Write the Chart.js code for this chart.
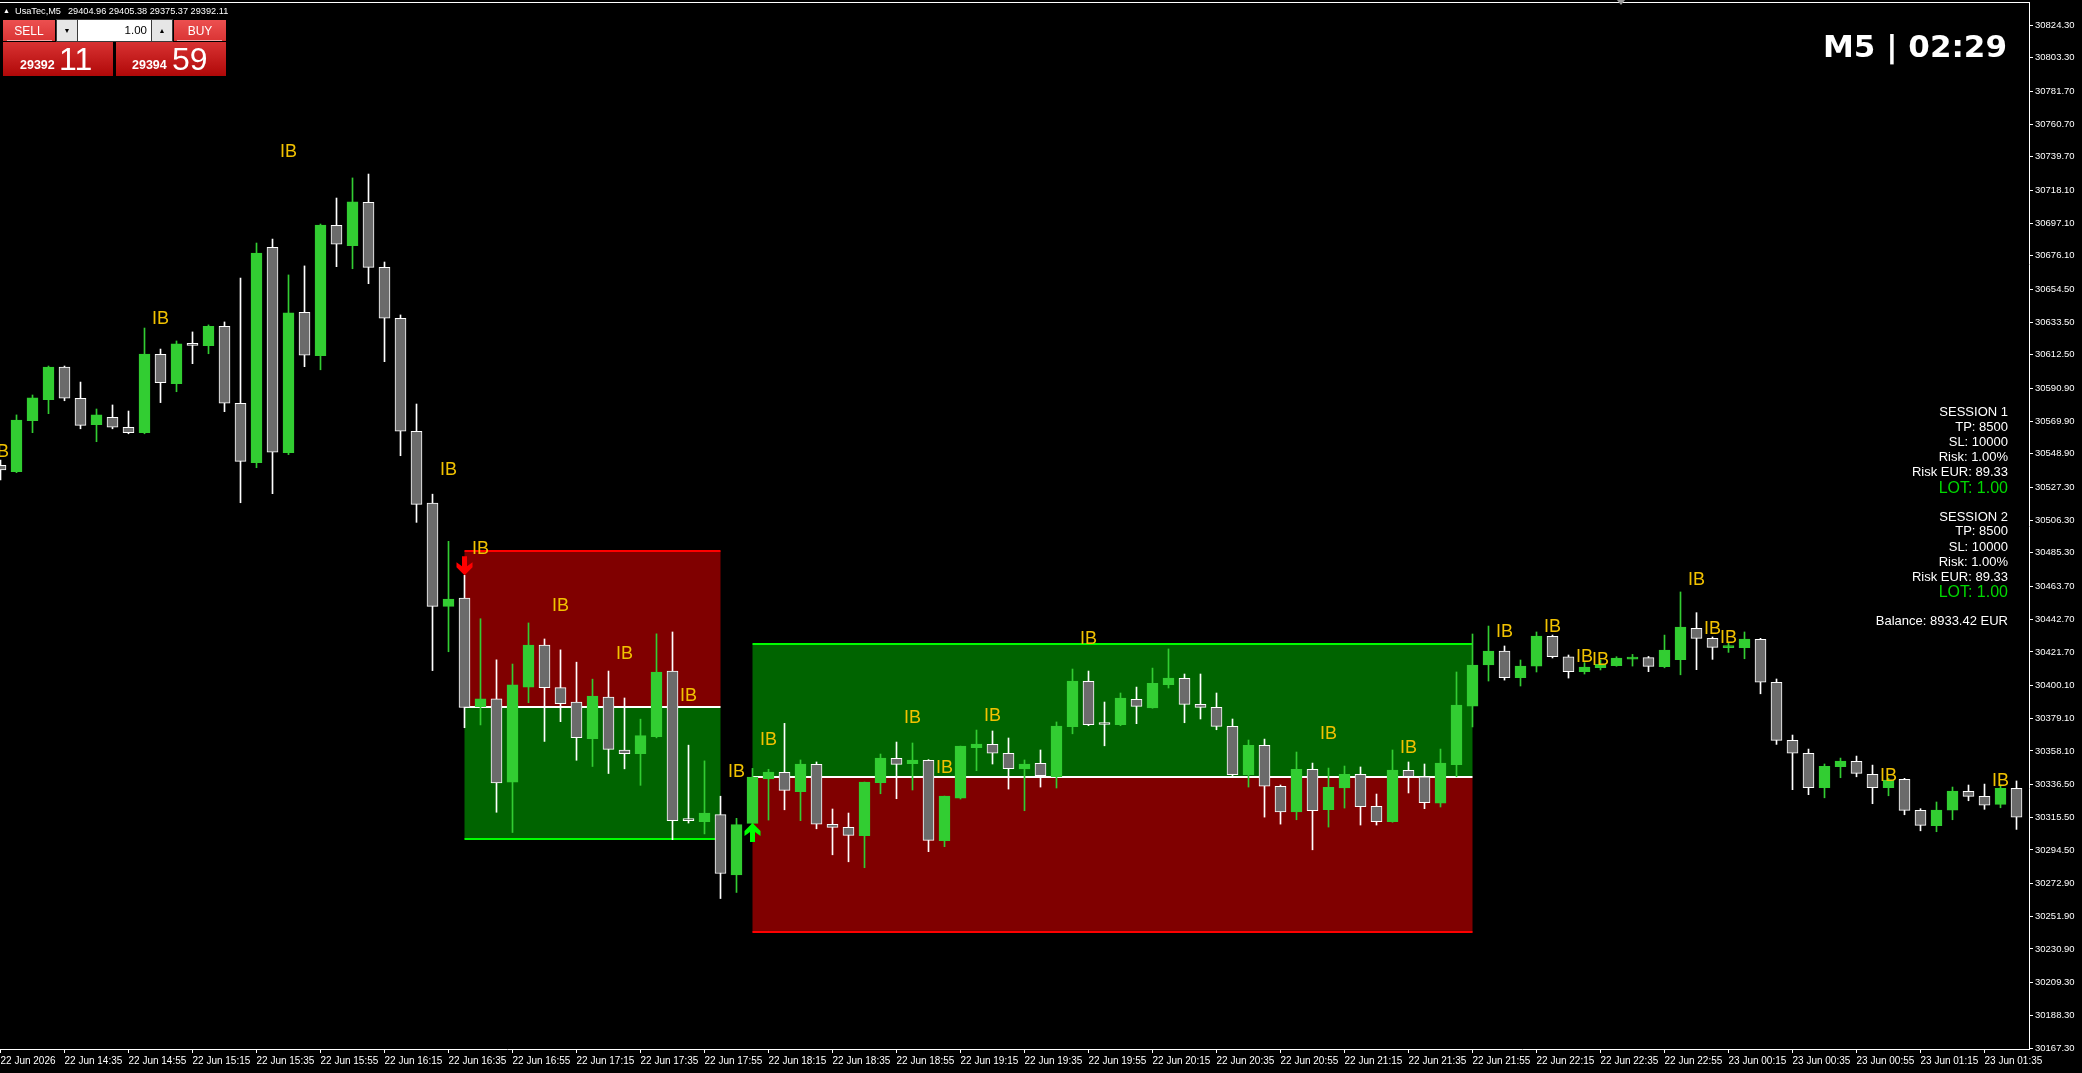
<!DOCTYPE html>
<html><head><meta charset="utf-8">
<script src="https://cdn.jsdelivr.net/npm/chart.js@4.4.1/dist/chart.umd.min.js"></script>
<style>
html,body{margin:0;padding:0;background:#000;width:2082px;height:1073px;overflow:hidden;font-family:"Liberation Sans",Arial,sans-serif;}
#wrap{position:relative;width:2082px;height:1073px;background:#000;}
canvas{position:absolute;left:0;top:0;}
.ov{position:absolute;white-space:nowrap;line-height:1;}
.blk{position:absolute;}
.info{font-size:13px;color:#fff;right:74px;}
.lot{font-size:16px;color:#00D800;right:74px;}
.rt{background:linear-gradient(#EC5050,#DA3434);}
.rb{background:linear-gradient(#D83232,#B00808);}
</style></head><body>
<div id="wrap">
<canvas id="c" width="2082" height="1073"></canvas>

<div class="ov" style="left:3px;top:7px;font-size:7px;color:#fff">▲</div>
<div class="ov" style="left:15px;top:6.5px;font-size:9.2px;color:#fff">UsaTec,M5</div>
<div class="ov" style="left:68px;top:6.5px;font-size:9.2px;color:#fff">29404.96 29405.38 29375.37 29392.11</div>

<div class="blk rt" style="left:3px;top:20px;width:52px;height:21px;"></div>
<div class="ov" style="left:3px;top:25px;width:52px;text-align:center;font-size:12px;color:#fff">SELL</div>
<div class="blk" style="left:7px;top:40px;width:45px;height:1px;background:#f3a8a8"></div>

<div class="blk" style="left:56px;top:19px;width:117px;height:23px;background:#3a3a3a"></div>
<div class="blk" style="left:57px;top:20px;width:20px;height:21px;background:#e6e6e6"></div>
<div class="ov" style="left:57px;top:27px;width:20px;text-align:center;font-size:7px;color:#000">▼</div>
<div class="blk" style="left:78px;top:20px;width:73px;height:21px;background:#fff"></div>
<div class="ov" style="left:78px;top:25.4px;width:69px;text-align:right;font-size:11.5px;color:#000">1.00</div>
<div class="blk" style="left:152px;top:20px;width:20px;height:21px;background:#e6e6e6"></div>
<div class="ov" style="left:152px;top:27px;width:20px;text-align:center;font-size:7px;color:#000">▲</div>

<div class="blk rt" style="left:174px;top:20px;width:52px;height:21px;"></div>
<div class="ov" style="left:174px;top:25px;width:52px;text-align:center;font-size:12px;color:#fff">BUY</div>
<div class="blk" style="left:177px;top:40px;width:45px;height:1px;background:#f3a8a8"></div>

<div class="blk rb" style="left:3px;top:42px;width:110px;height:34px;"></div>
<div class="ov" style="left:20px;top:59.4px;font-size:12.5px;font-weight:bold;color:#fff">29392</div>
<div class="ov" style="left:59px;top:43px;font-size:32px;color:#fff">11</div>
<div class="blk rb" style="left:116px;top:42px;width:110px;height:34px;"></div>
<div class="ov" style="left:132px;top:59.4px;font-size:12.5px;font-weight:bold;color:#fff">29394</div>
<div class="ov" style="left:172px;top:43px;font-size:32px;color:#fff">59</div>

<div class="blk" style="left:1617px;top:0px;width:0;height:0;border-left:4px solid transparent;border-right:4px solid transparent;border-top:5px solid #9a9a9a"></div>

<div class="ov" style="right:75px;top:31px;font-family:'DejaVu Sans',sans-serif;font-weight:bold;font-size:31px;color:#fff">M5 | 02:29</div>

<div class="ov info" style="top:405.3px">SESSION 1</div>
<div class="ov info" style="top:419.6px">TP: 8500</div>
<div class="ov info" style="top:434.9px">SL: 10000</div>
<div class="ov info" style="top:450.3px">Risk: 1.00%</div>
<div class="ov info" style="top:464.9px">Risk EUR: 89.33</div>
<div class="ov lot" style="top:479.9px">LOT: 1.00</div>
<div class="ov info" style="top:509.6px">SESSION 2</div>
<div class="ov info" style="top:524.3px">TP: 8500</div>
<div class="ov info" style="top:539.6px">SL: 10000</div>
<div class="ov info" style="top:554.9px">Risk: 1.00%</div>
<div class="ov info" style="top:569.6px">Risk EUR: 89.33</div>
<div class="ov lot" style="top:584.2px">LOT: 1.00</div>
<div class="ov info" style="top:613.6px">Balance: 8933.42 EUR</div>
</div>
<script>
// ---- DATA ----
const openPrices = [30541.5,30537.4,30570.2,30583.7,30604.7,30584.6,30567.6,30572.4,30566.0,30562.5,
30612.8,30594.0,30619.9,30618.4,30630.8,30581.4,30543.2,30681.6,30549.6,30639.8,
30611.9,30695.7,30682.6,30710.5,30668.7,30636.0,30563.4,30517.3,30450.9,30456.3,
30386.6,30391.5,30338.1,30399.1,30426.1,30398.8,30389.4,30366.0,30392.7,30358.7,
30356.3,30367.2,30409.4,30313.3,30312.7,30317.2,30278.4,30311.6,30340.2,30344.4,
30331.9,30349.5,30311.0,30309.0,30303.6,30337.7,30353.3,30349.9,30352.1,30300.4,
30327.8,30360.2,30362.3,30356.6,30346.5,30350.1,30341.5,30373.6,30402.8,30375.1,
30374.9,30391.2,30385.8,30400.6,30404.7,30388.0,30386.1,30373.9,30342.8,30361.7,
30335.4,30319.0,30346.3,30320.3,30334.3,30343.1,30322.5,30312.6,30345.6,30341.5,
30324.6,30349.2,30386.9,30413.3,30422.3,30405.1,30412.6,30431.7,30418.6,30409.0,
30411.5,30412.8,30417.1,30418.0,30412.2,30416.7,30436.8,30430.4,30424.4,30424.4,
30429.8,30402.2,30364.9,30356.6,30334.5,30348.0,30351.4,30343.1,30334.5,30339.9,
30319.9,30310.1,30320.0,30332.2,30328.9,30323.8,30334.1];
const highPrices = [30544.9,30573.9,30586.7,30605.3,30605.3,30595.0,30577.7,30580.3,30576.4,30629.7,
30616.2,30621.4,30627.2,30631.7,30633.6,30661.8,30684.3,30686.9,30663.8,30669.6,
30696.5,30713.2,30726.1,30728.6,30672.1,30638.1,30580.9,30523.0,30492.7,30470.9,
30443.0,30416.6,30413.9,30440.3,30430.0,30423.0,30415.1,30404.2,30409.4,30392.1,
30378.5,30433.3,30434.5,30361.8,30351.7,30329.0,30314.8,30346.9,30346.3,30375.8,
30352.3,30351.0,30320.8,30318.2,30338.1,30356.1,30363.8,30363.2,30352.5,30329.1,
30361.2,30371.5,30370.9,30366.4,30352.3,30358.7,30376.7,30410.7,30409.4,30389.5,
30395.3,30399.1,30411.3,30423.6,30407.5,30407.5,30395.3,30378.6,30365.1,30365.7,
30336.2,30357.4,30350.3,30347.1,30348.4,30347.8,30330.4,30358.7,30351.0,30349.7,
30359.3,30408.8,30433.2,30438.3,30425.5,30416.5,30434.5,30432.5,30419.7,30414.8,
30416.5,30418.6,30420.1,30418.8,30432.5,30460.2,30446.9,30431.3,30427.9,30434.5,
30430.4,30404.3,30368.3,30359.3,30349.7,30353.5,30354.8,30349.0,30340.5,30340.5,
30321.0,30325.3,30334.9,30336.2,30336.8,30336.2,30338.8];
const lowPrices = [30532.1,30536.8,30562.5,30574.7,30583.0,30565.0,30556.7,30565.0,30561.8,30561.8,
30581.8,30588.8,30606.8,30613.2,30576.0,30517.5,30540.0,30523.3,30548.4,30604.9,
30602.9,30669.1,30667.8,30658.2,30608.1,30547.7,30504.9,30409.7,30421.8,30373.0,
30374.8,30318.7,30305.7,30389.1,30364.2,30376.9,30352.1,30348.1,30343.6,30346.6,
30336.0,30366.5,30301.1,30311.8,30304.8,30263.3,30267.2,30309.9,30313.7,30320.3,
30313.3,30308.1,30291.4,30286.9,30283.1,30330.6,30327.4,30333.0,30293.4,30296.6,
30327.2,30345.4,30349.7,30333.6,30319.7,30334.9,30334.3,30369.1,30374.3,30361.4,
30374.3,30375.6,30385.5,30398.5,30376.2,30378.6,30371.7,30341.5,30334.9,30315.6,
30311.1,30313.9,30294.6,30309.2,30321.4,30310.5,30310.5,30312.3,30331.1,30321.0,
30322.1,30341.5,30373.5,30403.0,30403.6,30399.8,30408.8,30417.8,30404.9,30407.5,
30410.1,30412.5,30412.6,30409.0,30411.5,30407.0,30410.3,30416.9,30421.4,30417.3,
30394.8,30362.3,30333.2,30330.0,30328.0,30340.9,30341.5,30324.2,30329.3,30317.1,
30306.8,30306.2,30313.9,30326.1,30320.6,30321.6,30307.7];
const closePrices = [30538.5,30570.6,30584.8,30604.7,30584.6,30567.2,30573.9,30566.0,30562.5,30613.0,
30594.6,30619.5,30618.6,30630.8,30581.4,30544.1,30677.9,30549.9,30639.4,30612.2,
30695.9,30683.5,30710.7,30668.7,30636.0,30563.4,30516.4,30450.9,30455.7,30386.0,
30391.5,30337.5,30400.6,30426.1,30398.8,30388.5,30366.6,30393.3,30359.1,30356.3,
30367.9,30408.8,30313.3,30313.3,30318.2,30279.4,30310.8,30341.3,30344.5,30332.8,
30349.7,30311.0,30309.0,30303.9,30338.1,30353.5,30349.5,30352.3,30300.7,30329.1,
30361.2,30362.5,30356.6,30346.7,30349.7,30342.2,30374.1,30403.0,30374.9,30375.1,
30392.1,30386.7,30401.5,30404.9,30388.0,30386.1,30373.9,30342.8,30361.7,30335.4,
30319.0,30346.3,30319.7,30334.7,30343.1,30322.3,30312.6,30345.8,30341.5,30324.8,
30350.3,30387.6,30413.3,30422.3,30405.1,30412.6,30431.9,30418.6,30409.0,30412.0,
30413.7,30417.8,30418.4,30412.4,30422.9,30437.7,30430.4,30424.6,30425.0,30430.0,
30402.2,30364.9,30356.6,30334.5,30348.2,30351.6,30343.7,30334.5,30339.4,30319.9,
30310.3,30320.1,30332.3,30328.9,30323.2,30334.1,30315.5];

const xTickIndex = [0,4,8,12,16,20,24,28,32,36,40,44,48,52,56,60,64,68,72,76,80,84,88,92,96,100,104,108,112,116,120,124];
const xTickLabels = ["22 Jun 2026","22 Jun 14:35","22 Jun 14:55","22 Jun 15:15","22 Jun 15:35","22 Jun 15:55","22 Jun 16:15","22 Jun 16:35",
"22 Jun 16:55","22 Jun 17:15","22 Jun 17:35","22 Jun 17:55","22 Jun 18:15","22 Jun 18:35","22 Jun 18:55","22 Jun 19:15",
"22 Jun 19:35","22 Jun 19:55","22 Jun 20:15","22 Jun 20:35","22 Jun 20:55","22 Jun 21:15","22 Jun 21:35","22 Jun 21:55",
"22 Jun 22:15","22 Jun 22:35","22 Jun 22:55","23 Jun 00:15","23 Jun 00:35","23 Jun 00:55","23 Jun 01:15","23 Jun 01:35"];
const yTickValues = [30824.3,30803.3,30781.7,30760.7,30739.7,30718.1,30697.1,30676.1,30654.5,30633.5,30612.5,30590.9,
30569.9,30548.9,30527.3,30506.3,30485.3,30463.7,30442.7,30421.7,30400.1,30379.1,30358.1,30336.5,30315.5,30294.5,
30272.9,30251.9,30230.9,30209.3,30188.3,30167.3];

const ibIndex = [0,10,18,28,30,35,39,43,46,48,57,59,62,68,83,88,94,97,99,100,106,107,108,118,125];
const ibPrice = [30550.1,30635.5,30743.0,30538.5,30487.8,30451.2,30420.6,30393.6,30344.8,30365.1,30379.0,30347.1,30380.5,
30429.8,30369.0,30359.8,30434.7,30437.5,30418.2,30416.5,30467.9,30436.4,30430.6,30342.0,30339.0];

const boxStart = [29,47];
const boxEnd = [45,92];
const boxEntry = [30386.5,30341.5];
const boxSL = [30486.5,30241.5];
const boxTP = [30301.5,30426.5];

const sellSignalIndex = [29];
const buySignalIndex = [47];

// ---- CHART ----
const GREEN='#32CD32', GRAY='#6B6B6B', WHITE='#FFFFFF';
const idx = openPrices.map((_,i)=>i);
const bull = idx.map(i=>closePrices[i]>openPrices[i]);
const bodyData = idx.map(i=>({x:i,y:[openPrices[i],closePrices[i]]}));
const wickData = idx.map(i=>({x:i,y:[lowPrices[i],highPrices[i]]}));

function downArrow(ctx,cx,ty,color){
  ctx.fillStyle=color;ctx.beginPath();
  ctx.moveTo(cx-2.5,ty-19);ctx.lineTo(cx+2.5,ty-19);ctx.lineTo(cx+2.5,ty-9);
  ctx.lineTo(cx+8,ty-13);ctx.lineTo(cx+8,ty-8);ctx.lineTo(cx,ty);ctx.lineTo(cx-8,ty-8);
  ctx.lineTo(cx-8,ty-13);ctx.lineTo(cx-2.5,ty-9);ctx.closePath();ctx.fill();
}
function upArrow(ctx,cx,ty,color){
  ctx.fillStyle=color;ctx.beginPath();
  ctx.moveTo(cx-2.5,ty+19);ctx.lineTo(cx+2.5,ty+19);ctx.lineTo(cx+2.5,ty+9);
  ctx.lineTo(cx+8,ty+13);ctx.lineTo(cx+8,ty+8);ctx.lineTo(cx,ty);ctx.lineTo(cx-8,ty+8);
  ctx.lineTo(cx-8,ty+13);ctx.lineTo(cx-2.5,ty+9);ctx.closePath();ctx.fill();
}

const boxPlugin = {
  id:'boxes',
  beforeDatasetsDraw(chart){
    const {ctx,scales:{x,y}}=chart;
    ctx.save();
    for(let b=0;b<boxStart.length;b++){
      const x0=x.getPixelForValue(boxStart[b]), x1=x.getPixelForValue(boxEnd[b]);
      const ye=y.getPixelForValue(boxEntry[b]), ys=y.getPixelForValue(boxSL[b]), yt=y.getPixelForValue(boxTP[b]);
      ctx.fillStyle='#800000'; ctx.fillRect(x0,Math.min(ye,ys),x1-x0,Math.abs(ys-ye));
      ctx.fillStyle='#006400'; ctx.fillRect(x0,Math.min(ye,yt),x1-x0,Math.abs(yt-ye));
      ctx.fillStyle='#FF0000'; ctx.fillRect(x0,Math.round(ys)-1,x1-x0,2);
      ctx.fillStyle='#00FF00'; ctx.fillRect(x0,Math.round(yt)-1,x1-x0,2);
      ctx.fillStyle='#FFFFFF'; ctx.fillRect(x0,Math.round(ye)-1,x1-x0,2);
    }
    ctx.restore();
  },
  afterDatasetsDraw(chart){
    const {ctx,scales:{x,y}}=chart;
    ctx.save();
    ctx.font='18px "Liberation Sans Narrow","Liberation Sans",Arial,sans-serif';
    ctx.fillStyle='#F2C200';ctx.textAlign='center';ctx.textBaseline='middle';
    for(let i=0;i<ibIndex.length;i++){
      ctx.fillText('IB',x.getPixelForValue(ibIndex[i]),y.getPixelForValue(ibPrice[i]));
    }
    sellSignalIndex.forEach(k=>downArrow(ctx,x.getPixelForValue(k),y.getPixelForValue(highPrices[k]),'#FF0000'));
    buySignalIndex.forEach(k=>upArrow(ctx,x.getPixelForValue(k),y.getPixelForValue(lowPrices[k])-3,'#00FF00'));
    ctx.restore();
  },
  afterDraw(chart){
    const {ctx,chartArea}=chart;
    ctx.save();ctx.fillStyle='#FFFFFF';
    ctx.fillRect(0,chartArea.top-1,chartArea.right+1,1);
    ctx.restore();
  }
};

Chart.defaults.font.family='"Liberation Sans", Arial, sans-serif';
new Chart(document.getElementById('c'),{
  type:'bar',
  data:{datasets:[
    {label:'body',data:bodyData,barThickness:11,minBarLength:2,grouped:false,order:0,
     backgroundColor:idx.map(i=>bull[i]?GREEN:GRAY),borderColor:idx.map(i=>bull[i]?GREEN:WHITE),
     borderWidth:1,borderSkipped:false},
    {label:'wick',data:wickData,barThickness:1,minBarLength:1,grouped:false,order:1,
     backgroundColor:idx.map(i=>bull[i]?GREEN:WHITE),borderWidth:0}
  ]},
  options:{
    responsive:false,animation:false,devicePixelRatio:1,
    layout:{padding:{top:3,left:0,right:0,bottom:0}},
    plugins:{legend:{display:false},tooltip:{enabled:false}},
    scales:{
      x:{type:'linear',min:-0.03125,max:126.78125,offset:false,
        grid:{display:true,drawOnChartArea:false,drawTicks:true,tickLength:4,color:'#FFFFFF',offset:false},
        border:{display:true,color:'#FFFFFF',width:1},
        afterBuildTicks:s=>{s.ticks=xTickIndex.map(v=>({value:v}));},
        ticks:{autoSkip:false,maxRotation:0,minRotation:0,align:'start',padding:2,color:'#FFFFFF',
          font:{size:10},callback:(v)=>{const j=xTickIndex.indexOf(v);return j>=0?xTickLabels[j]:'';}},
        afterFit:s=>{s.height=24;s.paddingLeft=0;s.paddingRight=0;}
      },
      y:{type:'linear',position:'right',min:30166.66,max:30838.46,beginAtZero:false,
        grid:{drawOnChartArea:false,drawTicks:true,tickLength:4,color:'#FFFFFF'},
        border:{display:true,color:'#FFFFFF',width:1},
        afterBuildTicks:s=>{s.ticks=yTickValues.map(v=>({value:v}));},
        ticks:{autoSkip:false,padding:2,color:'#FFFFFF',font:{size:9.5},callback:v=>Number(v).toFixed(2)},
        afterFit:s=>{s.width=53;s.paddingTop=0;s.paddingBottom=0;}
      }
    }
  },
  plugins:[boxPlugin]
});
</script>
</body></html>
